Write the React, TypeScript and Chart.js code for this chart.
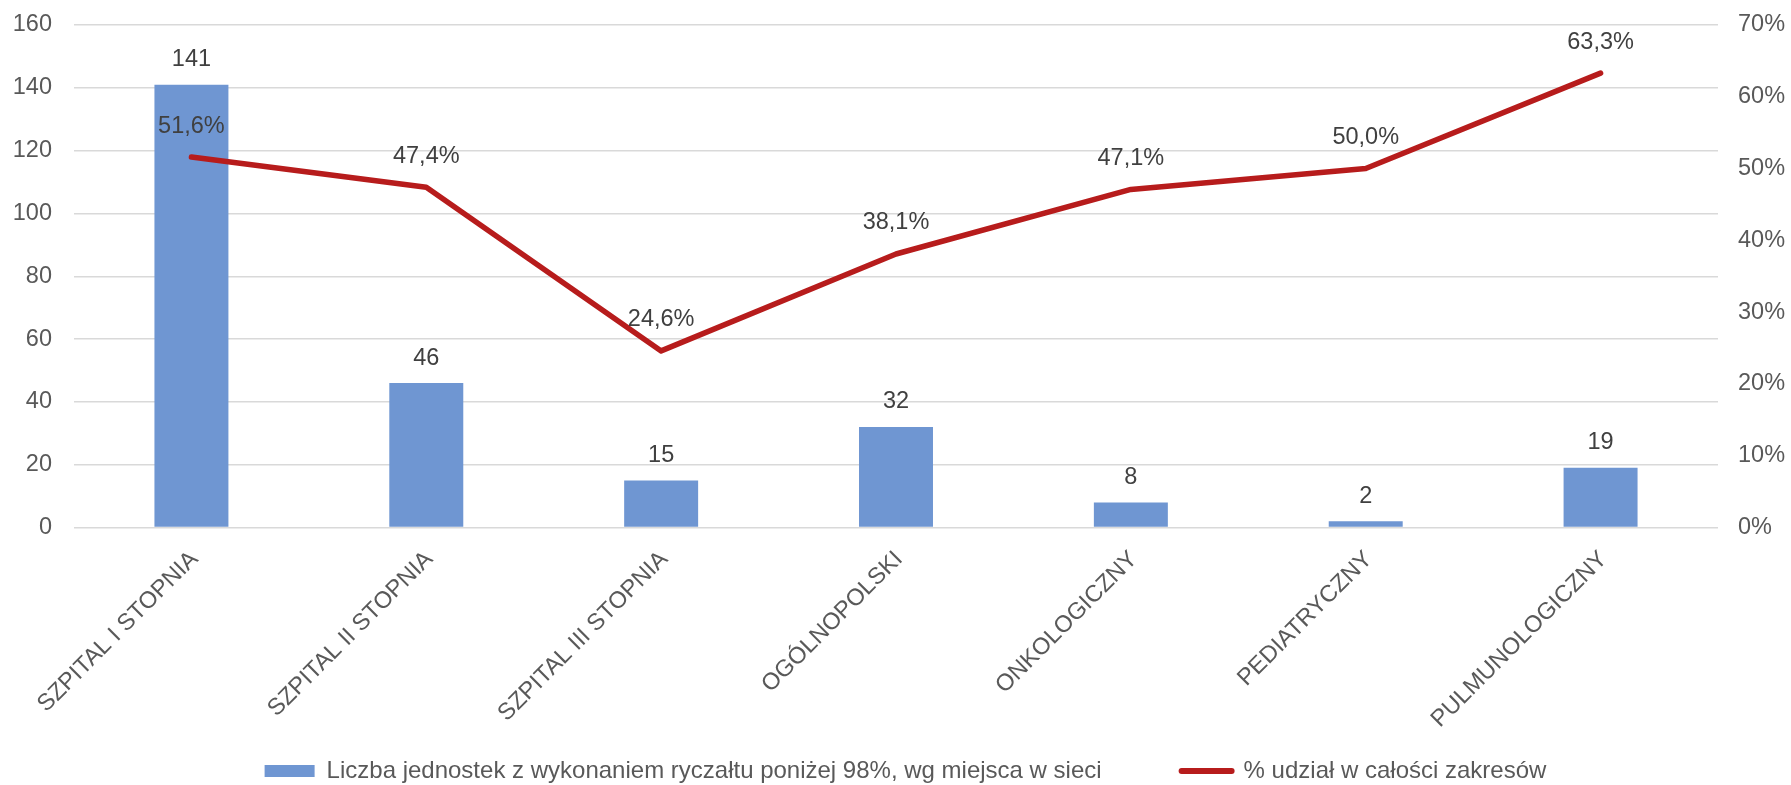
import React, { useEffect, useRef } from "react";
import { Chart, registerables } from "chart.js";

Chart.register(...registerables);

const categories: string[] = [
  "SZPITAL I STOPNIA",
  "SZPITAL II STOPNIA",
  "SZPITAL III STOPNIA",
  "OGÓLNOPOLSKI",
  "ONKOLOGICZNY",
  "PEDIATRYCZNY",
  "PULMUNOLOGICZNY",
];
const unitCounts: number[] = [141, 46, 15, 32, 8, 2, 19];
const sharePercent: number[] = [51.6, 47.4, 24.6, 38.1, 47.1, 50.0, 63.3];

const barLabel = "Liczba jednostek z wykonaniem ryczałtu poniżej 98%, wg miejsca w sieci";
const lineLabel = "% udział w całości zakresów";

const BAR_COLOR = "#6F96D2";
const LINE_COLOR = "#B71C1C";
const AXIS_TEXT = "#595959";
const LABEL_TEXT = "#404040";
const GRID = "#D9D9D9";
const FONT_FAMILY = '"Liberation Sans", Arial, sans-serif';

const LEGEND_PAD = 80;
const LEGEND_FONT = 24;
const LEGEND_CENTER_Y = 771;

const fmtPct = (v: number) => v.toFixed(1).replace(".", ",") + "%";

const dataLabelPlugin = {
  id: "dataLabels",
  afterDatasetsDraw(chart: any) {
    const ctx = chart.ctx;
    ctx.save();
    ctx.font = `23.5px ${FONT_FAMILY}`;
    ctx.fillStyle = LABEL_TEXT;
    ctx.textAlign = "center";
    ctx.textBaseline = "middle";
    chart.data.datasets.forEach((ds: any, i: number) => {
      const meta = chart.getDatasetMeta(i);
      meta.data.forEach((el: any, j: number) => {
        const v = ds.data[j] as number;
        const text = i === 0 ? String(v) : fmtPct(v);
        const off = i === 0 ? 25 : 31;
        ctx.fillText(text, el.x, el.y - off);
      });
    });
    ctx.restore();
  },
};

// place the legend row at the reference position
const legendPlacePlugin = {
  id: "legendPlace",
  afterLayout(chart: any) {
    const lg = chart.legend;
    if (!lg) return;
    lg.left = 20;
    lg.right = chart.width;
    lg.top = LEGEND_CENTER_Y - LEGEND_FONT / 2 - LEGEND_PAD;
    lg.bottom = chart.height;
  },
};

export default function App() {
  const ref = useRef<HTMLCanvasElement | null>(null);

  useEffect(() => {
    if (!ref.current) return;
    const chart = new Chart(ref.current, {
      type: "bar",
      data: {
        labels: categories,
        datasets: [
          {
            type: "bar",
            label: barLabel,
            data: unitCounts,
            backgroundColor: BAR_COLOR,
            borderWidth: 0,
            barPercentage: 0.315,
            categoryPercentage: 1,
            yAxisID: "y",
            order: 1,
          } as any,
          {
            type: "line",
            label: lineLabel,
            data: sharePercent,
            borderColor: LINE_COLOR,
            backgroundColor: LINE_COLOR,
            borderWidth: 5.5,
            borderCapStyle: "round",
            borderJoinStyle: "round",
            pointRadius: 0,
            tension: 0,
            yAxisID: "y1",
            order: 0,
          } as any,
        ],
      },
      options: {
        responsive: false,
        animation: false,
        layout: { padding: { left: 0, right: 0, top: 25, bottom: 0 } },
        plugins: {
          tooltip: { enabled: false },
          legend: {
            position: "bottom",
            align: "center",
            maxHeight: 57.5,
            labels: {
              usePointStyle: true,
              pointStyleWidth: 50,
              boxHeight: 12,
              padding: LEGEND_PAD,
              color: AXIS_TEXT,
              font: { size: LEGEND_FONT, family: FONT_FAMILY },
              generateLabels: () => [
                {
                  text: barLabel,
                  fillStyle: BAR_COLOR,
                  strokeStyle: BAR_COLOR,
                  lineWidth: 0,
                  pointStyle: "rect",
                  datasetIndex: 0,
                  hidden: false,
                  fontColor: AXIS_TEXT,
                },
                {
                  text: lineLabel,
                  fillStyle: LINE_COLOR,
                  strokeStyle: LINE_COLOR,
                  lineWidth: 6,
                  lineCap: "round",
                  pointStyle: "line",
                  datasetIndex: 1,
                  hidden: false,
                  fontColor: AXIS_TEXT,
                },
              ],
            },
          } as any,
        },
        scales: {
          x: {
            offset: true,
            grid: { display: false },
            border: { display: false },
            ticks: {
              autoSkip: false,
              minRotation: 45,
              maxRotation: 45,
              padding: 10,
              labelOffset: 3,
              color: AXIS_TEXT,
              font: { size: 23.5, family: FONT_FAMILY },
            },
            afterFit: (axis: any) => {
              axis.height = 200;
              axis.paddingLeft = 0;
              axis.paddingRight = 0;
            },
          },
          y: {
            position: "left",
            min: 0,
            max: 160,
            ticks: {
              stepSize: 20,
              padding: 22,
              color: AXIS_TEXT,
              font: { size: 23.5, family: FONT_FAMILY },
            },
            grid: { color: GRID, lineWidth: 1.5, drawTicks: false },
            border: { display: false },
            afterFit: (axis: any) => {
              axis.width = 74;
              axis.paddingTop = 0;
              axis.paddingBottom = 0;
            },
          },
          y1: {
            position: "right",
            min: 0,
            max: 70,
            ticks: {
              stepSize: 10,
              padding: 20,
              color: AXIS_TEXT,
              font: { size: 23.5, family: FONT_FAMILY },
              callback: (v: any) => `${v}%`,
            },
            grid: { display: false, drawTicks: false },
            border: { display: false },
            afterFit: (axis: any) => {
              axis.width = 73;
              axis.paddingTop = 0;
              axis.paddingBottom = 0;
            },
          },
        },
      },
      plugins: [dataLabelPlugin, legendPlacePlugin],
    });
    return () => chart.destroy();
  }, []);

  return (
    <div style={{ position: "absolute", left: 0, top: 0, width: 1791, height: 785, background: "#fff" }}>
      <canvas ref={ref} width={1791} height={785} style={{ display: "block" }} />
    </div>
  );
}
